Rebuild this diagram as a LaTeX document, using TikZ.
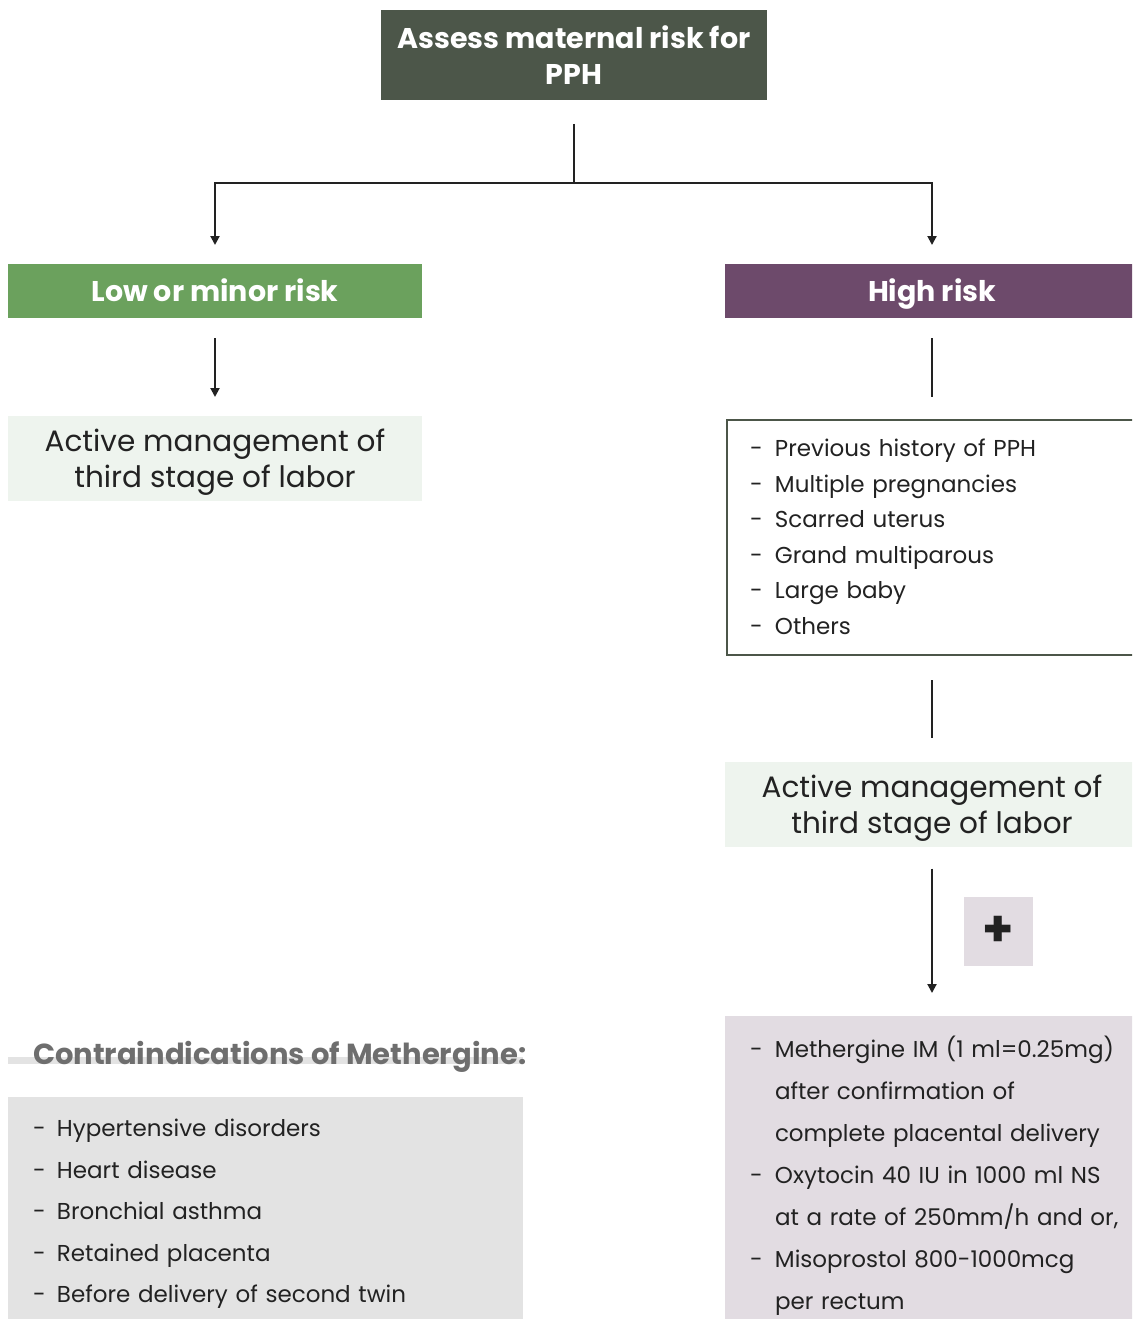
\documentclass[tikz,border=0pt]{standalone}
\usepackage{fontspec}
\setmainfont{Poppins}
\usetikzlibrary{arrows.meta}
\definecolor{headgreen}{HTML}{4C5649}
\definecolor{lowgreen}{HTML}{6BA15D}
\definecolor{highpurple}{HTML}{6D4A6B}
\definecolor{palegreen}{HTML}{EEF4EE}
\definecolor{palepurple}{HTML}{E2DCE2}
\definecolor{palegray}{HTML}{E3E3E3}
\definecolor{titlegray}{HTML}{6E6E6E}
\definecolor{ink}{HTML}{222222}
\newcommand{\itm}[1]{\makebox[25pt][l]{-}#1\par}
\begin{document}
\begin{tikzpicture}[x=1pt,y=-1pt,
  box/.style={inner sep=0pt, outer sep=0pt, align=center},
  headbox/.style={box, fill=headgreen, text=white, minimum width=386pt, minimum height=90pt,
    font=\fontsize{28.5}{36}\selectfont\bfseries},
  riskbox/.style={box, minimum width=414pt, minimum height=54pt},
  risklabel/.style={box, text=white, text height=20pt, text depth=6pt,
    font=\fontsize{28.5}{32}\selectfont\bfseries},
  amtsl/.style={box, fill=palegreen, minimum width=414pt, minimum height=85pt},
  amtsltext/.style={box, text=ink, font=\fontsize{29.5}{36}\selectfont},
  conn/.style={draw=ink, line width=2pt},
  arr/.style={conn, -{Triangle[length=9pt,width=9pt]}},
]
\clip (0,0) rectangle (1132,1319);
\fill[white] (0,0) rectangle (1132,1319);

% top decision
\node[headbox] (assess) at (574,55) {Assess maternal risk for\\PPH};
\coordinate (fork) at (574,183);

% risk categories
\node[riskbox, fill=lowgreen] (low) at (215,291) {};
\node[risklabel] at ([yshift=-3pt]low.center) {Low or minor risk};
\node[riskbox, fill=highpurple] (high) at (932,291) {};
\node[risklabel] at ([yshift=-3pt]high.center) {High risk};

% low-risk branch
\node[amtsl] (amtslL) at (215,458.5) {};
\node[amtsltext] at ([yshift=-4pt]amtslL.center) {Active management of\\third stage of labor};

% high-risk factors
\draw[headgreen, line width=2.5pt] (1140,420) -- (727,420) -- (727,655) -- (1140,655);
\node[box, anchor=north west, text=ink, text width=380pt, align=left,
  font=\fontsize{23}{35.5}\selectfont] (factors) at (750,439)
  {\itm{Previous history of PPH}\itm{Multiple pregnancies}\itm{Scarred uterus}\itm{Grand multiparous}\itm{Large baby}\itm{Others}};
\coordinate (factTop) at (932,420);
\coordinate (factBot) at (932,655);

\node[amtsl] (amtslR) at (932,804) {};
\node[amtsltext] at ([yshift=-4pt]amtslR.center) {Active management of\\third stage of labor};

% plus sign
\node[box, fill=palepurple, minimum width=69pt, minimum height=69pt, text=ink] (plus) at (998.5,931.5)
  {\fontsize{50}{50}\selectfont\bfseries\raisebox{-3pt}{+}};

% treatment box
\fill[palepurple] (725,1016) rectangle (1140,1330);
\coordinate (treatTop) at (932,1016);
\node[box, anchor=north west, text=ink, text width=380pt, align=left,
  font=\fontsize{23}{42}\selectfont] (treat) at (750,1036)
  {\itm{Methergine IM (1 ml=0.25mg)}\hspace*{25pt}after confirmation of\par
   \hspace*{25pt}complete placental delivery\par
   \itm{Oxytocin 40 IU in 1000 ml NS}\hspace*{25pt}at a rate of 250mm/h and or,\par
   \itm{Misoprostol 800-1000mcg}\hspace*{25pt}per rectum\par};

% contraindications
\fill[palegray] (8,1057) rectangle (523,1064);
\node[box, anchor=west, text=titlegray, font=\fontsize{29}{32}\selectfont\bfseries] (ctitle) at (33,1057)
  {Contraindications of Methergine:};
\fill[palegray] (8,1097) rectangle (523,1330);
\node[box, anchor=north west, text=ink, text width=480pt, align=left,
  font=\fontsize{23}{41.5}\selectfont] (contra) at (33,1119)
  {\makebox[24pt][l]{-}Hypertensive disorders\par
   \makebox[24pt][l]{-}Heart disease\par
   \makebox[24pt][l]{-}Bronchial asthma\par
   \makebox[24pt][l]{-}Retained placenta\par
   \makebox[24pt][l]{-}Before delivery of second twin\par};

% connectors
\draw[arr, shorten <=24pt, shorten >=19pt] (assess.south) -- (fork) -| (low.north);
\draw[arr, shorten >=19pt] (fork) -| (high.north);
\draw[arr, shorten <=20pt, shorten >=19pt] (low.south) -- (amtslL.north);
\draw[conn, shorten <=20pt, shorten >=23pt] (high.south) -- (factTop);
\draw[conn, shorten <=25pt, shorten >=24pt] (factBot) -- (amtslR.north);
\draw[arr, shorten <=22pt, shorten >=23pt] (amtslR.south) -- (treatTop);
\end{tikzpicture}
\end{document}
